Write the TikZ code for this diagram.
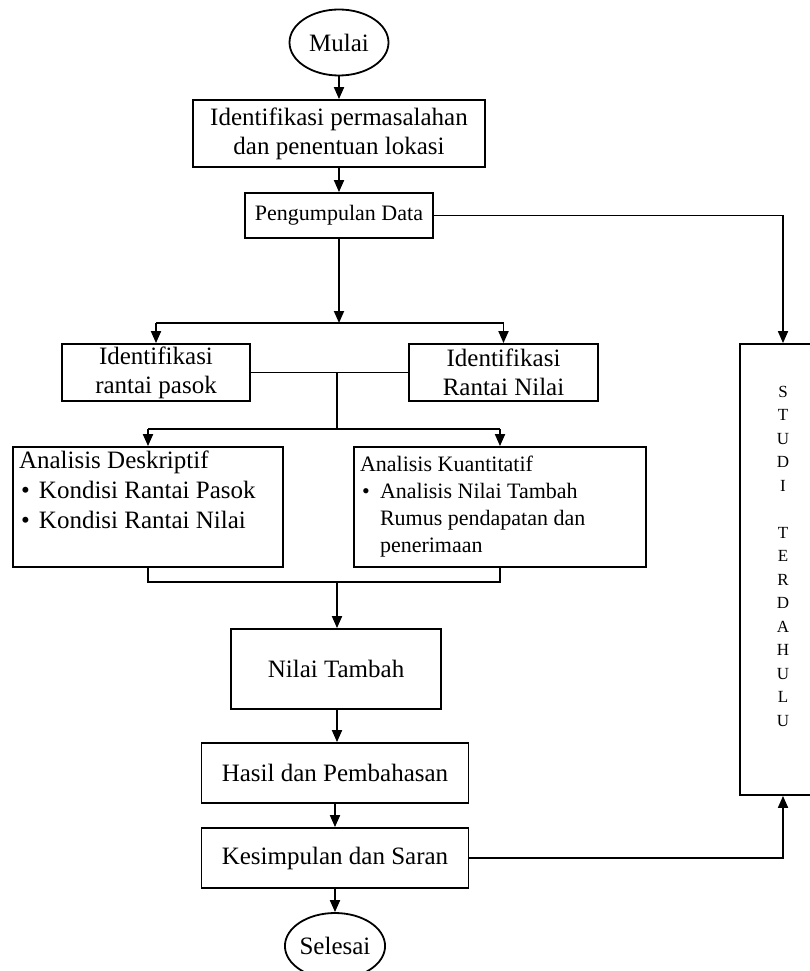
\documentclass[tikz,border=0pt]{standalone}
\usepackage{fontspec}
\setmainfont{Liberation Serif}
\usetikzlibrary{arrows.meta,shapes.geometric}
\tikzset{
  box/.style={draw,line width=1.8pt,align=center,inner sep=0pt,font=\fontsize{25}{29}\selectfont},
  terminal/.style={draw,ellipse,line width=1.8pt,minimum width=99pt,minimum height=66pt,inner sep=0pt,font=\fontsize{25}{29}\selectfont},
  line/.style={line width=1.8pt},
  arrow/.style={line width=1.8pt,-{Triangle[length=12pt,width=10pt]}}
}
\newcommand{\bul}{\hspace*{2pt}\makebox[18pt][l]{\textbullet}}
\begin{document}
\begin{tikzpicture}[x=1pt,y=-1pt]
  \useasboundingbox (0,0) rectangle (810,971);
  \clip (0,0) rectangle (810,971);
  \node[terminal] (mulai) at (339,42.5) {Mulai};
  \node[box,minimum width=292pt,minimum height=67pt] (identifikasi) at (339,133.5) {Identifikasi permasalahan\\dan penentuan lokasi};
  \node[box,minimum width=188pt,minimum height=45pt,font=\fontsize{22}{26}\selectfont] (pengumpulan) at (339,215.5) {Pengumpulan Data};
  \node[box,minimum width=188pt,minimum height=57pt] (rantaipasok) at (156,372.5) {Identifikasi\\rantai pasok};
  \node[box,minimum width=189pt,minimum height=57pt] (rantainilai) at (503.5,372.5) {Identifikasi\\Rantai Nilai};
  \node[box,inner xsep=6pt,inner ysep=4pt] (deskriptif) at (148,507) {\parbox[c][112pt][t]{258pt}{\fontsize{25}{30}\selectfont
    Analisis Deskriptif\\ \bul Kondisi Rantai Pasok\\ \bul Kondisi Rantai Nilai}};
  \node[box,inner xsep=6pt,inner ysep=4pt] (kuantitatif) at (500,507) {\parbox[c][112pt][t]{280pt}{\fontsize{22}{27}\selectfont
    \vspace*{5pt}Analisis Kuantitatif\\ \bul Analisis Nilai Tambah\\ \hspace*{20pt}Rumus pendapatan dan\\ \hspace*{20pt}penerimaan}};
  \node[box,minimum width=210pt,minimum height=80pt] (nilaitambah) at (336,669) {Nilai Tambah};
  \node[box,minimum width=267pt,minimum height=60pt] (hasil) at (335,773) {Hasil dan Pembahasan};
  \node[box,minimum width=267pt,minimum height=60pt] (kesimpulan) at (335,858) {Kesimpulan dan Saran};
  \node[terminal] (selesai) at (335,946) {Selesai};
  \node[box,inner sep=2pt,font=\fontsize{17}{23.5}\selectfont] (studi) at (783,569.5) {\parbox[c][447pt][t]{82pt}{\centering
    \vspace*{40pt}S\\T\\U\\D\\I\\[23.5pt]T\\E\\R\\D\\A\\H\\U\\L\\U}};

  \coordinate (split1) at (339,323);
  \coordinate (join1) at (337,372.5);
  \coordinate (split2) at (337,429);
  \coordinate (join2) at (337,582);

  \draw[arrow] (mulai) -- (identifikasi);
  \draw[arrow] (identifikasi) -- (pengumpulan);
  \draw[arrow] (pengumpulan) -- (split1);
  \draw[line] (rantaipasok.north |- split1) -- (rantainilai.north |- split1);
  \draw[arrow] (rantaipasok.north |- split1) -- (rantaipasok.north);
  \draw[arrow] (rantainilai.north |- split1) -- (rantainilai.north);
  \draw[line] (rantaipasok) -- (rantainilai);
  \draw[line] (join1) -- (split2);
  \draw[line] (deskriptif.north |- split2) -- (kuantitatif.north |- split2);
  \draw[arrow] (deskriptif.north |- split2) -- (deskriptif.north);
  \draw[arrow] (kuantitatif.north |- split2) -- (kuantitatif.north);
  \draw[line] (deskriptif.south) -- (deskriptif.south |- join2) -- (kuantitatif.south |- join2) -- (kuantitatif.south);
  \draw[arrow] (join2) -- (join2 |- nilaitambah.north);
  \draw[arrow] (nilaitambah.south -| join2) -- (join2 |- hasil.north);
  \draw[arrow] (hasil) -- (kesimpulan);
  \draw[arrow] (kesimpulan) -- (selesai);
  \draw[arrow] (pengumpulan.east) -| (studi.north);
  \draw[arrow] (kesimpulan.east) -| (studi.south);
\end{tikzpicture}
\end{document}
